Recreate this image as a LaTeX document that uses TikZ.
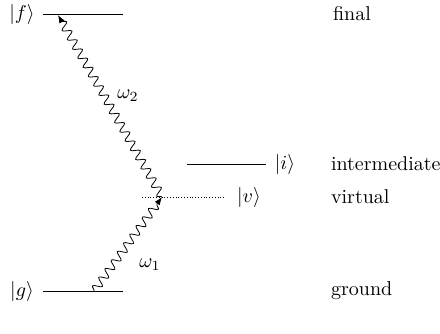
\documentclass[tikz,border=0pt]{standalone}
\usepackage{amsmath,amssymb}
\usetikzlibrary{arrows.meta,decorations.pathmorphing}

\begin{document}
\begin{tikzpicture}[x=0.5pt,y=-0.5pt,
    photon/.style={-{Latex[length=4pt,width=3pt]},decorate,
      decoration={snake,amplitude=2.1pt,segment length=5.3pt,post length=3pt}},
    levelname/.style={anchor=west}]
  \useasboundingbox (0,0) rectangle (440,333);
  % levels
  \coordinate (fL) at (43,14);   \coordinate (fR) at (123,14);
  \coordinate (iL) at (187,164); \coordinate (iR) at (266,164);
  \coordinate (vL) at (142,197); \coordinate (vR) at (225,197);
  \coordinate (gL) at (43,291);  \coordinate (gR) at (123,291);
  \draw (fL) -- (fR);
  \draw (iL) -- (iR);
  \draw[densely dotted] (vL) -- (vR);
  \draw (gL) -- (gR);
  \node (kf) at (22,14) {$|f\rangle$};
  \node (ki) at (285,164) {$|i\rangle$};
  \node (kv) at (249,197) {$|v\rangle$};
  \node (kg) at (22,291) {$|g\rangle$};
  \node[levelname] (final) at (326,14) {final};
  \node[levelname] (inter) at (324,164) {intermediate};
  \node[levelname] (virt) at (324,197) {virtual};
  \node[levelname] (grnd) at (324,291) {ground};
  % photons
  \coordinate (gA) at (94,291);
  \coordinate (vA) at (162,197);
  \coordinate (fA) at (58,15);
  \draw[photon] (gA) -- (vA);
  \draw[photon] (vA) -- (fA);
  \node (w1) at (150,265) {$\omega_1$};
  \node (w2) at (128,96) {$\omega_2$};
\end{tikzpicture}
\end{document}
